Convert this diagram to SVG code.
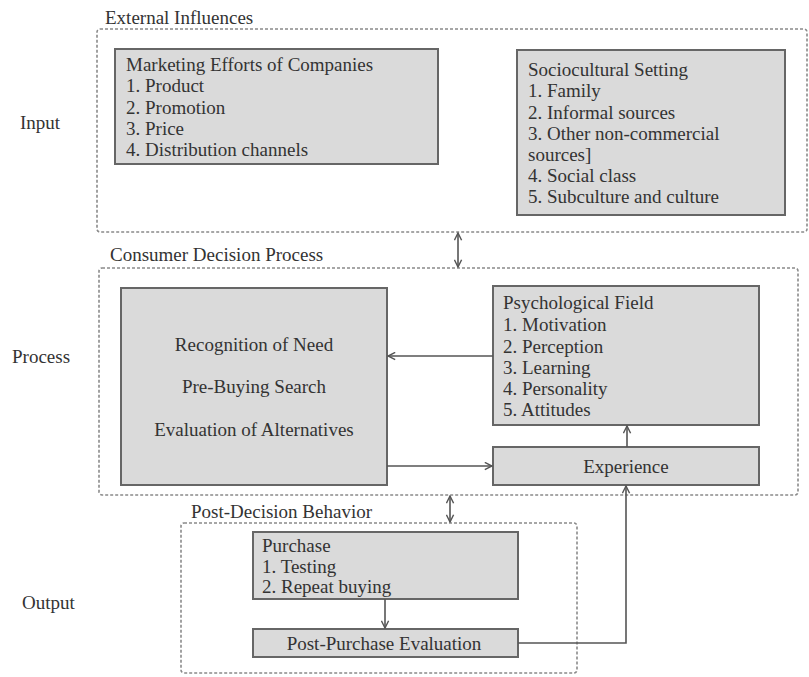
<svg xmlns="http://www.w3.org/2000/svg" width="809" height="677" viewBox="0 0 809 677">
<style>
  text { font-family: "Liberation Serif", "Times New Roman", "DejaVu Serif", serif; font-size: 19px; fill: #333; }
  .mid { text-anchor: middle; }
  .group { fill: none; stroke: #8a8a8a; stroke-width: 1.6; stroke-dasharray: 3 2; }
  .box { fill: #dadada; stroke: #666; stroke-width: 2; }
  .conn { fill: none; stroke: #555; stroke-width: 1.6; }
</style>
<defs>
  <marker id="arr" viewBox="0 0 10 10" refX="9" refY="5" markerWidth="9" markerHeight="9" markerUnits="userSpaceOnUse" orient="auto-start-reverse">
    <path d="M1,1 L9,5 L1,9" fill="none" stroke="#555" stroke-width="1.6"/>
  </marker>
</defs>
<rect width="809" height="677" fill="#fff"/>

<g id="side-labels">
  <text x="20" y="129" font-family="Liberation Serif, serif">Input</text>
  <text x="12" y="363">Process</text>
  <text x="22" y="609">Output</text>
</g>

<g id="external-influences">
  <rect class="group" x="97" y="29" width="710" height="203" rx="3"/>
  <text x="105" y="24">External  Influences</text>
</g>

<g id="marketing-efforts">
  <rect class="box" x="115" y="49" width="323" height="115"/>
  <text x="126" y="71">Marketing  Efforts of Companies</text>
  <text x="126" y="92">1. Product</text>
  <text x="126" y="114">2. Promotion</text>
  <text x="126" y="135">3. Price</text>
  <text x="126" y="156">4. Distribution  channels</text>
</g>

<g id="sociocultural-setting">
  <rect class="box" x="517" y="50" width="268" height="165"/>
  <text x="528" y="76">Sociocultural Setting</text>
  <text x="528" y="97">1. Family</text>
  <text x="528" y="119">2. Informal sources</text>
  <text x="528" y="140">3. Other non-commercial</text>
  <text x="528" y="161">sources]</text>
  <text x="528" y="182">4. Social class</text>
  <text x="528" y="203">5. Subculture and culture</text>
</g>

<g id="consumer-decision-process">
  <rect class="group" x="99" y="268" width="699" height="227" rx="3"/>
  <text x="110" y="261">Consumer Decision  Process</text>
</g>

<g id="decision-steps">
  <rect class="box" x="121" y="288" width="266" height="197"/>
  <text class="mid" x="254" y="351">Recognition of Need</text>
  <text class="mid" x="254" y="393">Pre-Buying  Search</text>
  <text class="mid" x="254" y="436">Evaluation  of Alternatives</text>
</g>

<g id="psychological-field">
  <rect class="box" x="493" y="286" width="266" height="139"/>
  <text x="503" y="309">Psychological Field</text>
  <text x="503" y="331">1. Motivation</text>
  <text x="503" y="353">2. Perception</text>
  <text x="503" y="374">3. Learning</text>
  <text x="503" y="395">4. Personality</text>
  <text x="503" y="416">5. Attitudes</text>
</g>

<g id="experience">
  <rect class="box" x="493" y="447" width="266" height="38"/>
  <text class="mid" x="626" y="473">Experience</text>
</g>

<g id="post-decision-behavior">
  <rect class="group" x="181" y="523" width="396" height="150" rx="3"/>
  <text x="191" y="518">Post-Decision Behavior</text>
</g>

<g id="purchase">
  <rect class="box" x="253" y="532" width="265" height="67"/>
  <text x="262" y="552">Purchase</text>
  <text x="262" y="573">1. Testing</text>
  <text x="262" y="593">2. Repeat buying</text>
</g>

<g id="post-purchase-evaluation">
  <rect class="box" x="253" y="629" width="265" height="28"/>
  <text class="mid" x="384" y="650">Post-Purchase Evaluation</text>
</g>

<g id="connectors">
  <line class="conn" x1="458" y1="233" x2="458" y2="267" marker-start="url(#arr)" marker-end="url(#arr)"/>
  <line class="conn" x1="493" y1="356" x2="388" y2="356" marker-end="url(#arr)"/>
  <line class="conn" x1="387" y1="466" x2="492" y2="466" marker-end="url(#arr)"/>
  <line class="conn" x1="627" y1="447" x2="627" y2="426" marker-end="url(#arr)"/>
  <line class="conn" x1="450" y1="496" x2="450" y2="522" marker-start="url(#arr)" marker-end="url(#arr)"/>
  <line class="conn" x1="385" y1="599" x2="385" y2="628" marker-end="url(#arr)"/>
  <polyline class="conn" points="518,643 626,643 626,486" marker-end="url(#arr)"/>
</g>
</svg>
